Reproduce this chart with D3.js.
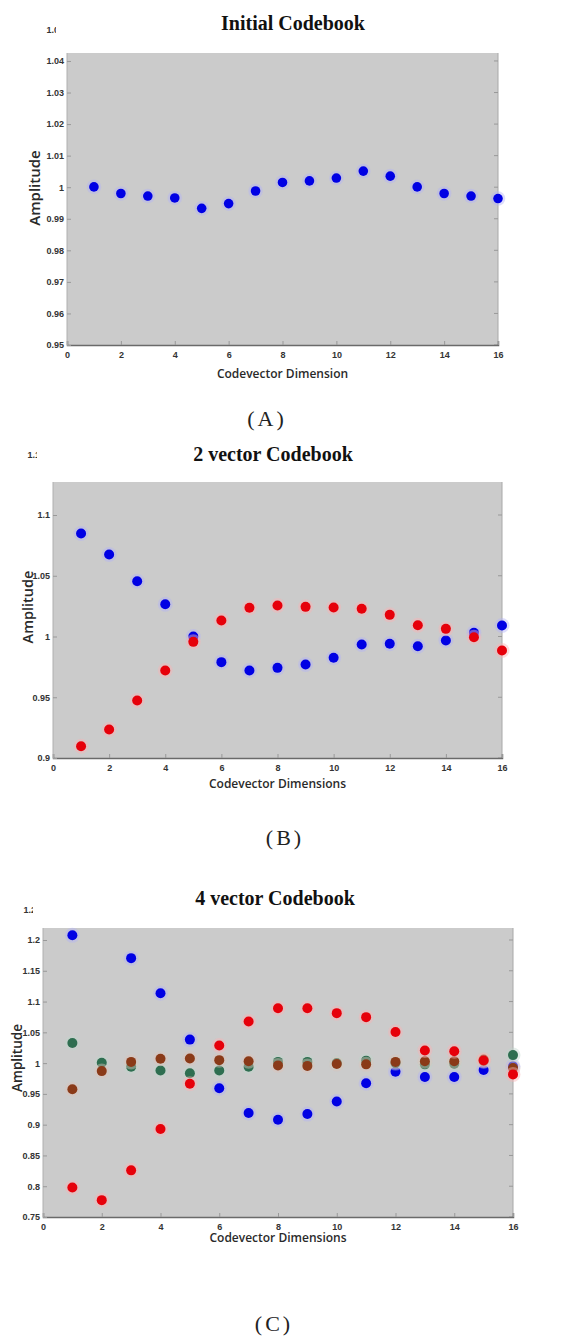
<!DOCTYPE html>
<html>
<head>
<meta charset="utf-8">
<script src="https://cdn.jsdelivr.net/npm/d3@7"></script>
<style>
  body { margin: 0; background: #fff; }
  svg { display: block; }
</style>
</head>
<body>
<svg width="569" height="1344"></svg>
<script>
// данные: размерности кодовектора и амплитуды
const dimensions = [1, 2, 3, 4, 5, 6, 7, 8, 9, 10, 11, 12, 13, 14, 15, 16];
const xTicks = [0, 2, 4, 6, 8, 10, 12, 14, 16];

// (A) начальная кодовая книга
const initialCodebook = [1.0001, 0.998, 0.9972, 0.9966, 0.9933, 0.9948, 0.9988, 1.0015,
                         1.002, 1.0029, 1.0051, 1.0035, 1.0001, 0.998, 0.9972, 0.9964];
const ticksA = [0.95, 0.96, 0.97, 0.98, 0.99, 1, 1.01, 1.02, 1.03, 1.04, 1.05];

// (B) 2 вектора
const twoVecBlue = [1.0848, 1.0675, 1.0455, 1.0265, 1.0, 0.9789, 0.972, 0.9742,
                    0.977, 0.9825, 0.9934, 0.994, 0.992, 0.9967, 1.003, 1.009];
const twoVecRed = [0.9097, 0.9235, 0.9473, 0.972, 0.9956, 1.0132, 1.0236, 1.0255,
                   1.0244, 1.0238, 1.0228, 1.0178, 1.0093, 1.0063, 0.9994, 0.9885];
const ticksB = [0.9, 0.95, 1, 1.05, 1.1, 1.15];

// (C) 4 вектора
const fourVecBlue = [1.2076, null, 1.1705, 1.1134, 1.0382, 0.9592, 0.9189, 0.908,
                     0.9172, 0.9376, 0.9672, 0.986, 0.9774, 0.9774, 0.9887, 0.995];
const fourVecGreen = [1.0328, 1.0005, 0.994, 0.988, 0.9834, 0.988, 0.994, 1.002,
                      1.002, 1.0, 1.004, 1.0, 0.998, 0.999, 1.003, 1.013];
const fourVecBrown = [0.9576, 0.987, 1.002, 1.007, 1.0076, 1.0048, 1.003, 0.9963,
                      0.9955, 0.9985, 0.998, 1.002, 1.003, 1.003, 1.006, 0.992];
const fourVecRed = [0.798, 0.7774, 0.8258, 0.893, 0.9666, 1.0285, 1.0677, 1.0892,
                    1.0892, 1.0812, 1.0747, 1.0505, 1.0204, 1.0194, 1.0043, 0.9817];
const ticksC = [0.75, 0.8, 0.85, 0.9, 0.95, 1, 1.05, 1.1, 1.15, 1.2, 1.25];

const colors = { blue: "#0000e4", red: "#e6000a", green: "#2e6e50", brown: "#8a3a18" };

const panels = [
  {
    title: "Initial Codebook", titleX: 293, titleY: 30,
    label: "(A)", labelX: 267, labelY: 426,
    xTitle: "Codevector Dimension", xTitleY: 378,
    yTitleX: 35, yTitleY: 188, yTitleSize: 15,
    left: 67, right: 498, top: 53, bottom: 345,
    domain: [0.95, 1.05], range: [345, 29.4], yTicks: ticksA,
    clipTopLabel: 56, r: 4.8,
    series: [{ values: initialCodebook, color: colors.blue }]
  },
  {
    title: "2 vector Codebook", titleX: 273, titleY: 461,
    label: "(B)", labelX: 285, labelY: 845,
    xTitle: "Codevector Dimensions", xTitleY: 788,
    yTitleX: 28, yTitleY: 607, yTitleSize: 14.5,
    left: 53, right: 502, top: 482, bottom: 758,
    domain: [0.9, 1.1], range: [758, 515], yTicks: ticksB,
    clipTopLabel: 37, r: 5,
    series: [{ values: twoVecBlue, color: colors.blue },
             { values: twoVecRed, color: colors.red }]
  },
  {
    title: "4 vector Codebook", titleX: 275, titleY: 905,
    label: "(C)", labelX: 274, labelY: 1331,
    xTitle: "Codevector Dimensions", xTitleY: 1242,
    yTitleX: 17, yTitleY: 1058, yTitleSize: 13.5,
    left: 43, right: 513, top: 928, bottom: 1217,
    domain: [0.75, 1.2], range: [1217, 940], yTicks: ticksC,
    clipTopLabel: 33, r: 5,
    series: [{ values: fourVecBlue, color: colors.blue },
             { values: fourVecGreen, color: colors.green },
             { values: fourVecBrown, color: colors.brown },
             { values: fourVecRed, color: colors.red }]
  }
];

const svg = d3.select("svg");
const fmt = d3.format(".2~f");

function drawPanel(p, i) {
  const g = svg.append("g");

  const scX = d3.scaleLinear().domain([0, 16]).range([p.left, p.right]);
  const scY = d3.scaleLinear().domain(p.domain).range(p.range);

  // серый фон области графика
  g.append("rect")
    .attr("x", p.left).attr("y", p.top)
    .attr("width", p.right - p.left).attr("height", p.bottom - p.top)
    .attr("fill", "#cbcbcb");

  // правая рамка с засечками
  g.append("line")
    .attr("x1", p.right).attr("x2", p.right).attr("y1", p.top).attr("y2", p.bottom)
    .attr("stroke", "#a8a8a8").attr("stroke-width", 1);
  g.selectAll(".rtick")
    .data(p.yTicks.filter(t => scY(t) >= p.top && scY(t) <= p.bottom))
    .enter().append("line")
    .attr("x1", p.right - 4).attr("x2", p.right)
    .attr("y1", d => scY(d)).attr("y2", d => scY(d))
    .attr("stroke", "#999");

  // ось X
  const axX = g.append("g")
    .attr("transform", `translate(0, ${p.bottom})`)
    .call(d3.axisBottom(scX).tickValues(xTicks).tickSize(-4).tickPadding(7).tickFormat(d3.format("d")));
  axX.select(".domain").attr("stroke", "#6a6a6a").attr("stroke-width", 1.5);
  axX.selectAll(".tick line").attr("stroke", "#999");
  axX.selectAll("text")
    .attr("font-family", "Liberation Sans, Arial, sans-serif")
    .attr("font-size", 9).attr("font-weight", "bold").attr("fill", "#333");

  // ось Y
  const clipId = "clipLbl" + i;
  svg.append("clipPath").attr("id", clipId)
    .append("rect").attr("x", 0).attr("y", -20)
    .attr("width", p.clipTopLabel).attr("height", 40);

  const axY = g.append("g")
    .attr("transform", `translate(${p.left}, 0)`)
    .call(d3.axisLeft(scY).tickValues(p.yTicks).tickSize(-4).tickPadding(3).tickFormat(fmt));
  axY.select(".domain").attr("stroke", "#b0b0b0")
    .attr("d", `M0,${p.top}V${p.bottom}`);
  axY.selectAll(".tick line").attr("stroke", "#999")
    .attr("display", d => scY(d) < p.top ? "none" : null);
  axY.selectAll("text")
    .attr("font-family", "Liberation Sans, Arial, sans-serif")
    .attr("font-size", 9).attr("font-weight", "bold").attr("fill", "#333");
  // верхняя подпись частично срезана, как на исходнике
  axY.selectAll(".tick").filter(d => scY(d) < p.top)
    .select("text").attr("clip-path", `url(#${clipId})`)
    .attr("transform", `translate(${-p.left}, 0)`)
    .attr("x", p.clipTopLabel + 8).attr("text-anchor", "end");

  // точки
  p.series.forEach(s => {
    const pts = dimensions.map((d, k) => ({ x: d, y: s.values[k] }))
      .filter(d => d.y !== null);
    const halo = d3.interpolateRgb(s.color, "#ffffff")(0.7);
    g.append("g").selectAll("circle")
      .data(pts).enter().append("circle")
      .attr("cx", d => scX(d.x)).attr("cy", d => scY(d.y))
      .attr("r", p.r + 2.5)
      .attr("fill", halo).attr("opacity", 0.45);
    g.append("g").selectAll("circle")
      .data(pts).enter().append("circle")
      .attr("cx", d => scX(d.x)).attr("cy", d => scY(d.y))
      .attr("r", p.r)
      .attr("fill", s.color);
  });

  // заголовки
  g.append("text")
    .attr("x", p.titleX).attr("y", p.titleY)
    .attr("text-anchor", "middle")
    .attr("font-family", "Liberation Serif, Times New Roman, serif")
    .attr("font-size", 20).attr("font-weight", "bold")
    .attr("fill", "#111")
    .text(p.title);

  g.append("text")
    .attr("x", (p.left + p.right) / 2).attr("y", p.xTitleY)
    .attr("text-anchor", "middle")
    .attr("font-family", "Open Sans, Liberation Sans, sans-serif")
    .attr("font-size", 12).attr("font-weight", 600)
    .attr("fill", "#2a2a2a")
    .text(p.xTitle);

  g.append("text")
    .attr("transform", `translate(${p.yTitleX}, ${p.yTitleY}) rotate(-90)`)
    .attr("text-anchor", "middle").attr("dy", "0.35em")
    .attr("font-family", "Open Sans, Liberation Sans, sans-serif")
    .attr("font-size", p.yTitleSize).attr("font-weight", 600)
    .attr("fill", "#2a2a2a")
    .text("Amplitude");

  g.append("text")
    .attr("x", p.labelX).attr("y", p.labelY)
    .attr("text-anchor", "middle")
    .attr("font-family", "Liberation Serif, Times New Roman, serif")
    .attr("font-size", 22).attr("letter-spacing", 3)
    .attr("fill", "#222")
    .text(p.label);
}

panels.forEach(drawPanel);
</script>
</body>
</html>
